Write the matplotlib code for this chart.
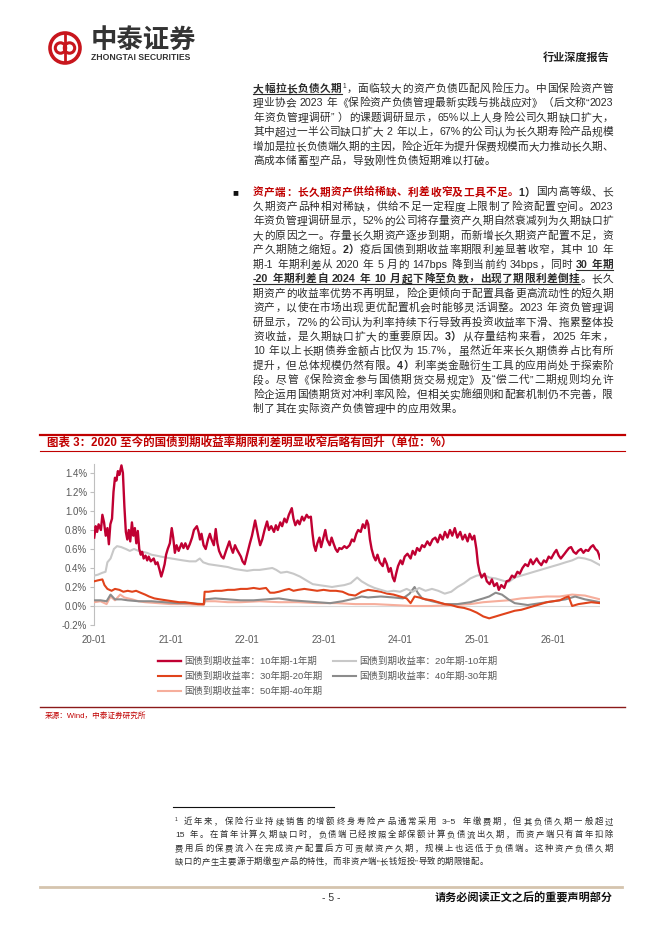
import re
import matplotlib
matplotlib.use("Agg")
import matplotlib.pyplot as plt
import matplotlib.dates as mdates
from matplotlib.patches import Circle
from matplotlib.ticker import FuncFormatter
import pandas as pd

plt.rcParams['font.family'] = ['Liberation Sans', 'Noto Sans CJK SC']

# ---------------- chart data (spread, %) ----------------
labels = ["国债到期收益率：10年期-1年期", "国债到期收益率：20年期-10年期",
          "国债到期收益率：30年期-20年期", "国债到期收益率：40年期-30年期",
          "国债到期收益率：50年期-40年期"]

d_10_1 = ["2020-01-02", "2020-01-09", "2020-01-16", "2020-01-23", "2020-02-03", "2020-02-10", "2020-02-18", "2020-02-26",
          "2020-03-05", "2020-03-12", "2020-03-19", "2020-03-27", "2020-04-03", "2020-04-10", "2020-04-17", "2020-04-24",
          "2020-05-01", "2020-05-11", "2020-05-18", "2020-05-25", "2020-06-01", "2020-06-08", "2020-06-15", "2020-06-22",
          "2020-06-30", "2020-07-07", "2020-07-14", "2020-07-21", "2020-07-28", "2020-08-04", "2020-08-11", "2020-08-18",
          "2020-08-25", "2020-09-03", "2020-09-11", "2020-09-18", "2020-09-28", "2020-10-12", "2020-10-21", "2020-10-30",
          "2020-11-09", "2020-11-17", "2020-11-25", "2020-12-03", "2020-12-10", "2020-12-18", "2020-12-28",
          "2021-01-06", "2021-01-13", "2021-01-21", "2021-01-29", "2021-02-08", "2021-02-22", "2021-03-03", "2021-03-12",
          "2021-03-23", "2021-04-02", "2021-04-13", "2021-04-22", "2021-05-06", "2021-05-14", "2021-05-21", "2021-05-28",
          "2021-06-07", "2021-06-17", "2021-06-28", "2021-07-07", "2021-07-15", "2021-07-26", "2021-08-04", "2021-08-12",
          "2021-08-20", "2021-09-01", "2021-09-10", "2021-09-22", "2021-10-08", "2021-10-15", "2021-10-25", "2021-11-04",
          "2021-11-12", "2021-11-22", "2021-12-02", "2021-12-10", "2021-12-20", "2021-12-29",
          "2022-01-07", "2022-01-14", "2022-01-24", "2022-02-08", "2022-02-15", "2022-02-24", "2022-03-04", "2022-03-14",
          "2022-03-25", "2022-04-06", "2022-04-15", "2022-04-26", "2022-05-09", "2022-05-18", "2022-05-27", "2022-06-08",
          "2022-06-17", "2022-06-28", "2022-07-08", "2022-07-19", "2022-08-02", "2022-08-10", "2022-08-19", "2022-08-30",
          "2022-09-08", "2022-09-20", "2022-09-29", "2022-10-12", "2022-10-21", "2022-11-01", "2022-11-09", "2022-11-16",
          "2022-11-24", "2022-12-02", "2022-12-12", "2022-12-20", "2022-12-29",
          "2023-01-09", "2023-01-17", "2023-01-30", "2023-02-08", "2023-02-17", "2023-02-27", "2023-03-08", "2023-03-17",
          "2023-03-28", "2023-04-10", "2023-04-21", "2023-05-05", "2023-05-16", "2023-05-26", "2023-06-06", "2023-06-15",
          "2023-06-27", "2023-07-07", "2023-07-17", "2023-07-26", "2023-08-02", "2023-08-10", "2023-08-18", "2023-08-28",
          "2023-09-06", "2023-09-15", "2023-09-26", "2023-10-10", "2023-10-19", "2023-10-30", "2023-11-08", "2023-11-17",
          "2023-11-27", "2023-12-05", "2023-12-13", "2023-12-22",
          "2024-01-03", "2024-01-12", "2024-01-23", "2024-02-05", "2024-02-20", "2024-03-01", "2024-03-12", "2024-03-22",
          "2024-04-03", "2024-04-15", "2024-04-26", "2024-05-10", "2024-05-22", "2024-06-04", "2024-06-17", "2024-06-28",
          "2024-07-10", "2024-07-22", "2024-08-02", "2024-08-14", "2024-08-26", "2024-09-06", "2024-09-18", "2024-09-30",
          "2024-10-14", "2024-10-25", "2024-11-06", "2024-11-18", "2024-11-28", "2024-12-10", "2024-12-20", "2024-12-30",
          "2025-01-06", "2025-01-14", "2025-01-24", "2025-02-07", "2025-02-18", "2025-03-03", "2025-03-14", "2025-03-25",
          "2025-04-07", "2025-04-16", "2025-04-28", "2025-05-12", "2025-05-23", "2025-06-05", "2025-06-18", "2025-06-30",
          "2025-07-14", "2025-07-25", "2025-08-07", "2025-08-20", "2025-09-02", "2025-09-15", "2025-09-26", "2025-10-14",
          "2025-10-24", "2025-11-05", "2025-11-17", "2025-11-28", "2025-12-10", "2025-12-22",
          "2026-01-06", "2026-01-16", "2026-01-27", "2026-02-06", "2026-02-24", "2026-03-06", "2026-03-17", "2026-03-27",
          "2026-04-08", "2026-04-20", "2026-04-30", "2026-05-13", "2026-05-25", "2026-06-05", "2026-06-17", "2026-06-29",
          "2026-07-10", "2026-07-21", "2026-07-31", "2026-08-07", "2026-08-12"]
v_10_1 = [0.72, 0.84, 0.78, 0.86, 0.80, 0.96, 0.88, 0.74,
          0.82, 0.65, 0.86, 0.92, 1.20, 1.35, 1.32, 1.42,
          1.38, 1.48, 1.40, 1.05, 0.78, 0.70, 0.80, 0.68,
          0.88, 0.74, 0.82, 0.66, 0.79, 0.60, 0.54, 0.57,
          0.50, 0.53, 0.48, 0.52, 0.47, 0.50, 0.44, 0.46,
          0.38, 0.31, 0.37, 0.44, 0.54, 0.60, 0.66,
          0.82, 0.72, 0.56, 0.64, 0.58, 0.66, 0.61, 0.66,
          0.60, 0.65, 0.72, 0.80, 0.84, 0.78, 0.70, 0.76,
          0.64, 0.60, 0.70, 0.76, 0.70, 0.64, 0.81, 0.66,
          0.58, 0.52, 0.50, 0.58, 0.68, 0.62, 0.56, 0.64,
          0.60, 0.56, 0.52, 0.47, 0.44, 0.52,
          0.60, 0.66, 0.74, 0.90, 0.82, 0.72, 0.64, 0.70,
          0.80, 0.89, 0.80, 0.84, 0.78, 0.85, 0.80, 0.88,
          0.84, 0.92, 0.88, 0.96, 1.03, 0.92, 0.85, 0.90,
          0.86, 0.94, 0.90, 0.96, 0.93, 0.94, 0.76, 0.64,
          0.58, 0.66, 0.72, 0.62, 0.70,
          0.80, 0.70, 0.64, 0.72, 0.66, 0.60, 0.57, 0.61,
          0.60, 0.63, 0.61, 0.64, 0.70, 0.68, 0.76, 0.80,
          0.78, 0.86, 0.82, 0.90, 0.86, 0.70, 0.60, 0.52,
          0.48, 0.54, 0.46, 0.42, 0.50, 0.44, 0.36, 0.40,
          0.30, 0.26, 0.34, 0.42,
          0.48, 0.44, 0.52, 0.55, 0.50, 0.58, 0.54, 0.61,
          0.58, 0.64, 0.62, 0.68, 0.64, 0.70, 0.72, 0.67,
          0.75, 0.70, 0.78, 0.72, 0.80, 0.74, 0.82, 0.72,
          0.78, 0.70, 0.75, 0.68, 0.76, 0.70, 0.74, 0.60,
          0.45, 0.36, 0.30, 0.34, 0.26, 0.23, 0.28, 0.21,
          0.24, 0.17, 0.22, 0.19, 0.26, 0.27, 0.32, 0.30,
          0.36, 0.34, 0.40, 0.44, 0.42, 0.49, 0.44, 0.50,
          0.46, 0.43, 0.48, 0.46, 0.52, 0.50,
          0.56, 0.59, 0.53, 0.50, 0.55, 0.58, 0.61, 0.62,
          0.57, 0.55, 0.58, 0.60, 0.56, 0.59, 0.58, 0.62,
          0.64, 0.60, 0.58, 0.54, 0.50]

d_20_10 = ["2020-01-02", "2020-01-20", "2020-02-10", "2020-02-25", "2020-03-05", "2020-03-20", "2020-04-05", "2020-04-20",
           "2020-05-10", "2020-06-01", "2020-06-20", "2020-07-10", "2020-08-01", "2020-08-20", "2020-09-10", "2020-10-01",
           "2020-10-25", "2020-11-15", "2020-12-10", "2021-01-05", "2021-02-01", "2021-03-01", "2021-04-01", "2021-05-01",
           "2021-05-20", "2021-06-05", "2021-07-01", "2021-08-01", "2021-09-01", "2021-10-01", "2021-11-01", "2021-12-01",
           "2022-01-01", "2022-02-01", "2022-03-01", "2022-04-01", "2022-05-01", "2022-05-20", "2022-06-10", "2022-07-10",
           "2022-08-10", "2022-09-10", "2022-10-10", "2022-11-10", "2022-12-10", "2023-01-10", "2023-02-10", "2023-03-10",
           "2023-04-10", "2023-05-10", "2023-06-10", "2023-07-01", "2023-08-01", "2023-09-01", "2023-10-01", "2023-11-01",
           "2023-12-01", "2024-01-01", "2024-02-01", "2024-03-01", "2024-04-01", "2024-05-01", "2024-06-01", "2024-07-01",
           "2024-08-01", "2024-09-01", "2024-10-01", "2024-11-01", "2024-12-01", "2025-01-01", "2025-02-01", "2025-03-01",
           "2025-04-01", "2025-05-01", "2025-06-01", "2025-07-01", "2025-08-01", "2025-09-01", "2025-10-01", "2025-11-01",
           "2025-12-01", "2026-01-01", "2026-02-01", "2026-03-01", "2026-04-01", "2026-05-01", "2026-06-01", "2026-07-01",
           "2026-08-12"]
v_20_10 = [0.32, 0.33, 0.35, 0.36, 0.46, 0.50, 0.60, 0.63,
           0.62, 0.60, 0.58, 0.60, 0.58, 0.57, 0.56, 0.54,
           0.53, 0.52, 0.51, 0.50, 0.49, 0.48, 0.47, 0.47,
           0.50, 0.46, 0.44, 0.43, 0.42, 0.41, 0.39, 0.38,
           0.37, 0.38, 0.38, 0.39, 0.40, 0.38, 0.35, 0.36,
           0.34, 0.31, 0.27, 0.23, 0.22, 0.21, 0.20, 0.21,
           0.22, 0.24, 0.30, 0.26, 0.22, 0.19, 0.17, 0.15,
           0.16, 0.15, 0.18, 0.15, 0.19, 0.16, 0.18, 0.16,
           0.13, 0.15, 0.20, 0.24, 0.29, 0.32, 0.33, 0.30,
           0.29, 0.27, 0.25, 0.30, 0.32, 0.34, 0.36, 0.38,
           0.40, 0.42, 0.44, 0.46, 0.48, 0.51, 0.50, 0.48,
           0.43]

d_30_20 = ["2020-01-02", "2020-01-20", "2020-02-10", "2020-02-20", "2020-03-05", "2020-03-25", "2020-04-10", "2020-05-01",
           "2020-05-20", "2020-06-10", "2020-07-01", "2020-07-20", "2020-08-10", "2020-09-01", "2020-09-20", "2020-10-15",
           "2020-11-10", "2020-12-10", "2021-01-10", "2021-02-10", "2021-03-10", "2021-04-10", "2021-05-10", "2021-06-08",
           "2021-06-12", "2021-07-01", "2021-08-01", "2021-09-01", "2021-10-01", "2021-11-01", "2021-12-01", "2022-01-01",
           "2022-02-01", "2022-03-01", "2022-04-01", "2022-04-20", "2022-05-10", "2022-06-01", "2022-07-01", "2022-07-20",
           "2022-08-10", "2022-09-01", "2022-10-01", "2022-11-01", "2022-12-01", "2023-01-01", "2023-02-01", "2023-03-01",
           "2023-04-01", "2023-05-01", "2023-06-01", "2023-07-01", "2023-08-01", "2023-09-01", "2023-10-01", "2023-11-01",
           "2023-12-01", "2024-01-01", "2024-02-01", "2024-02-20", "2024-03-10", "2024-04-01", "2024-05-01", "2024-06-01",
           "2024-07-01", "2024-08-01", "2024-09-01", "2024-10-01", "2024-11-01", "2024-12-01", "2025-01-01", "2025-02-01",
           "2025-03-01", "2025-04-01", "2025-05-01", "2025-06-01", "2025-07-01", "2025-08-01", "2025-09-01", "2025-10-01",
           "2025-11-01", "2025-12-01", "2026-01-01", "2026-02-01", "2026-03-01", "2026-03-15", "2026-04-01", "2026-05-01",
           "2026-06-01", "2026-07-01", "2026-08-12"]
v_30_20 = [0.26, 0.27, 0.28, 0.22, 0.18, 0.16, 0.18, 0.17,
           0.15, 0.16, 0.15, 0.16, 0.14, 0.12, 0.10, 0.08,
           0.07, 0.06, 0.05, 0.04, 0.04, 0.03, 0.02, 0.02,
           0.15, 0.15, 0.16, 0.16, 0.17, 0.17, 0.18, 0.18,
           0.19, 0.18, 0.19, 0.14, 0.14, 0.15, 0.17, 0.18,
           0.16, 0.17, 0.18, 0.17, 0.16, 0.17, 0.16, 0.16,
           0.15, 0.12, 0.11, 0.15, 0.17, 0.16, 0.15, 0.13,
           0.12, 0.10, 0.08, 0.03, 0.10, 0.09, 0.07, 0.06,
           0.04, 0.02, 0.01, -0.01, -0.02, -0.04, -0.07, -0.11,
           -0.13, -0.11, -0.09, -0.07, -0.05, -0.04, -0.02, 0.00,
           0.02, 0.04, 0.05, 0.06, 0.09, 0.10, 0.00, 0.02,
           0.03, 0.04, 0.03]

d_40_30 = ["2020-01-02", "2020-02-01", "2020-03-01", "2020-03-20", "2020-04-10", "2020-05-10", "2020-06-10", "2020-08-01",
           "2020-10-01", "2020-12-01", "2021-02-01", "2021-04-01", "2021-06-08", "2021-06-14", "2021-08-01", "2021-10-01",
           "2021-12-01", "2022-02-01", "2022-04-01", "2022-06-01", "2022-08-01", "2022-10-01", "2022-12-01", "2023-02-01",
           "2023-04-01", "2023-06-01", "2023-07-01", "2023-08-01", "2023-10-01", "2023-12-01", "2024-01-15", "2024-02-15",
           "2024-03-10", "2024-03-25", "2024-04-15", "2024-06-01", "2024-08-01", "2024-10-01", "2024-12-01", "2025-01-01",
           "2025-02-01", "2025-03-01", "2025-04-01", "2025-05-01", "2025-06-01", "2025-07-01", "2025-09-01", "2025-11-01",
           "2026-01-01", "2026-03-01", "2026-04-15", "2026-06-01", "2026-08-12"]
v_40_30 = [0.06, 0.06, 0.05, 0.12, 0.07, 0.07, 0.06, 0.05,
           0.05, 0.04, 0.03, 0.03, 0.02, 0.07, 0.08, 0.07,
           0.06, 0.06, 0.07, 0.08, 0.06, 0.05, 0.04, 0.03,
           0.05, 0.08, 0.10, 0.09, 0.10, 0.09, 0.08, 0.13,
           0.20, 0.14, 0.08, 0.05, 0.02, 0.02, 0.04, 0.06,
           0.08, 0.10, 0.14, 0.12, 0.07, 0.03, 0.01, 0.03,
           0.05, 0.07, 0.10, 0.07, 0.04]

d_50_40 = ["2020-01-02", "2020-02-01", "2020-03-01", "2020-03-20", "2020-04-10", "2020-05-05", "2020-05-25", "2020-07-01",
           "2020-08-01", "2020-09-01", "2020-11-01", "2021-01-01", "2021-03-01", "2021-06-08", "2021-06-14", "2021-08-01",
           "2021-10-01", "2021-12-01", "2022-03-01", "2022-06-01", "2022-09-01", "2022-12-01", "2023-03-01", "2023-06-01",
           "2023-09-01", "2023-12-01", "2024-03-01", "2024-06-01", "2024-09-01", "2024-12-01", "2025-02-01", "2025-04-01",
           "2025-06-01", "2025-08-01", "2025-10-01", "2025-12-01", "2026-02-01", "2026-04-01", "2026-06-01", "2026-08-12"]
v_50_40 = [0.04, 0.05, 0.02, 0.10, 0.06, 0.12, 0.09, 0.07,
           0.05, 0.04, 0.03, 0.02, 0.02, 0.01, 0.05, 0.05,
           0.04, 0.04, 0.05, 0.04, 0.04, 0.03, 0.03, 0.02,
           0.02, 0.01, 0.00, 0.00, 0.01, 0.02, 0.04, 0.05,
           0.06, 0.08, 0.09, 0.10, 0.10, 0.12, 0.11, 0.07]

series_colors = ['#C00032', '#C8C8C8', '#E0431B', '#8C8C8C', '#F6AE9C']

# ---------------- page text ----------------
para1 = [
    [("大幅拉长负债久期", 'bu'), ("1", 'sup'), ("，面临较大的资产负债匹配风险压力。中国保险资产管", 'n')],
    [("理业协会 2023 年《保险资产负债管理最新实践与挑战应对》（后文称“2023", 'n')],
    [("年资负管理调研” ）的课题调研显示，65%以上人身险公司久期缺口扩大，", 'n')],
    [("其中超过一半公司缺口扩大 2 年以上，67%的公司认为长久期寿险产品规模", 'n')],
    [("增加是拉长负债端久期的主因，险企近年为提升保费规模而大力推动长久期、", 'n')],
    [("高成本储蓄型产品，导致刚性负债短期难以打破。", 'n')],
]
para2 = [
    [("资产端：长久期资产供给稀缺、利差收窄及工具不足。", 'r'), ("1）", 'b'), ("国内高等级、长", 'n')],
    [("久期资产品种相对稀缺，供给不足一定程度上限制了险资配置空间。2023", 'n')],
    [("年资负管理调研显示，52%的公司将存量资产久期自然衰减列为久期缺口扩", 'n')],
    [("大的原因之一。存量长久期资产逐步到期，而新增长久期资产配置不足，资", 'n')],
    [("产久期随之缩短。", 'n'), ("2）", 'b'), ("疫后国债到期收益率期限利差显著收窄，其中 10 年", 'n')],
    [("期-1 年期利差从 2020 年 5 月的 147bps 降到当前约 34bps，同时 ", 'n'), ("30 年期", 'bu')],
    [("-20 年期利差自 2024 年 10 月起下降至负数，出现了期限利差倒挂", 'bu'), ("。长久", 'n')],
    [("期资产的收益率优势不再明显，险企更倾向于配置具备更高流动性的短久期", 'n')],
    [("资产，以使在市场出现更优配置机会时能够灵活调整。2023 年资负管理调", 'n')],
    [("研显示，72%的公司认为利率持续下行导致再投资收益率下滑、拖累整体投", 'n')],
    [("资收益，是久期缺口扩大的重要原因。", 'n'), ("3）", 'b'), ("从存量结构来看，2025 年末，", 'n')],
    [("10 年以上长期债券金额占比仅为 15.7%，虽然近年来长久期债券占比有所", 'n')],
    [("提升，但总体规模仍然有限。", 'n'), ("4）", 'b'), ("利率类金融衍生工具的应用尚处于探索阶", 'n')],
    [("段。尽管《保险资金参与国债期货交易规定》及“偿二代”二期规则均允许", 'n')],
    [("险企运用国债期货对冲利率风险，但相关实施细则和配套机制仍不完善，限", 'n')],
    [("制了其在实际资产负债管理中的应用效果。", 'n')],
]
footnote = [
    [("1", 'sup'), (" 近年来，保险行业持续销售的增额终身寿险产品通常采用 3~5 年缴费期，但其负债久期一般超过", 'n')],
    [("15 年。在首年计算久期缺口时，负债端已经按照全部保额计算负债流出久期，而资产端只有首年扣除", 'n')],
    [("费用后的保费流入在完成资产配置后方可贡献资产久期，规模上也远低于负债端。这种资产负债久期", 'n')],
    [("缺口的产生主要源于期缴型产品的特性，而非资产端“长钱短投”导致的期限错配。", 'n')],
]

fig = plt.figure(figsize=(6.62, 9.36), dpi=100)
page = fig.add_axes([0, 0, 1, 1])
page.set_xlim(0, 662)
page.set_ylim(936, 0)
page.axis('off')
rend = fig.canvas.get_renderer()

TXT = '#2B2B2B'


def put_line(y, segs, x0, x1, size, justify=True):
    """place one line token by token, spreading the spare room between tokens"""
    items = []
    for txt, st in segs:
        for piece in re.findall(r'[!-~]+| |[^ -~]', txt):
            if piece == ' ':
                items.append((None, size * 100 / 72 * 0.28, st))
                continue
            fs = size * 0.62 if st == 'sup' else size
            col = '#C00000' if st == 'r' else TXT
            wt = 'bold' if st in ('b', 'bu', 'r') else 'normal'
            t = page.text(0, y, piece, fontsize=fs, color=col, fontweight=wt,
                          va='baseline', ha='left')
            items.append((t, t.get_window_extent(renderer=rend).width, st))
    total = sum(w for _, w, _ in items)
    gap = (x1 - x0 - total) / (len(items) - 1) if justify and len(items) > 1 else 0.4
    x = x0
    ul = []
    for t, w, st in items:
        if t is not None:
            t.set_x(x)
            if st == 'sup':
                t.set_y(y - size * 0.55)
        if st == 'bu':
            if ul and x - ul[-1][1] <= gap + 0.6:
                ul[-1][1] = x + w
            else:
                ul.append([x, x + w])
        x += w + gap
    for a, b in ul:
        page.plot([a, b], [y + 2, y + 2], color=TXT, lw=0.8)


# header
LOGO = '#C8161D'
page.add_patch(Circle((65, 48), 15, fill=False, ec=LOGO, lw=2.6))
page.add_patch(Circle((60.5, 48), 5.2, fill=False, ec=LOGO, lw=2.2))
page.add_patch(Circle((69.5, 48), 5.2, fill=False, ec=LOGO, lw=2.2))
page.plot([65, 65], [34, 62], color=LOGO, lw=2.0)
page.text(91, 40, "中泰证券", fontsize=19, fontweight='bold', color='#333333', va='center', ha='left')
page.text(91, 58, "ZHONGTAI SECURITIES", fontsize=6.2, fontweight='bold', color='#333333', va='center', ha='left')
page.text(610, 58, "行业深度报告", fontsize=8, fontweight='bold', color='#222222', va='center', ha='right')

# body paragraphs
for i, segs in enumerate(para1):
    put_line(92 + i * 14.45, segs, 253, 613, 7.7, justify=(i < len(para1) - 1))
page.text(232, 195.5, "■", fontsize=7, color='#111111', va='baseline', ha='left')
for i, segs in enumerate(para2):
    put_line(195.5 + i * 14.45, segs, 253, 613, 7.7, justify=(i < len(para2) - 1))

# chart title band
page.plot([40, 625], [435, 435], color='#C00000', lw=1.6)
page.plot([40, 625], [451, 451], color='#C00000', lw=0.8)
page.text(47, 443, "图表 3：2020 至今的国债到期收益率期限利差明显收窄后略有回升（单位：%）",
          fontsize=8.3, fontweight='bold', color='#C00000', va='center', ha='left')

# chart
ax = fig.add_axes([94 / 662, 1 - 625 / 936, 506 / 662, 161.5 / 936])
series = [(d_10_1, v_10_1), (d_20_10, v_20_10), (d_30_20, v_30_20), (d_40_30, v_40_30), (d_50_40, v_50_40)]
zorders = [6, 5, 4, 3.5, 3]
handles = []
for (d, v), lab, col, z in zip(series, labels, series_colors, zorders):
    h, = ax.plot(pd.to_datetime(d), v, color=col, lw=1.7 if col == '#C00032' else 1.5,
                 label=lab, zorder=z, solid_joinstyle='round')
    handles.append(h)
ax.axhline(0, color='#D9D9D9', lw=0.8, zorder=1)
ax.set_xlim(pd.Timestamp("2020-01-01"), pd.Timestamp("2026-08-12"))
ax.set_ylim(-0.2, 1.5)
ax.set_yticks([-0.2, 0.0, 0.2, 0.4, 0.6, 0.8, 1.0, 1.2, 1.4])
ax.yaxis.set_major_formatter(FuncFormatter(lambda v, p: f"{v:.1f}%"))
ax.xaxis.set_major_locator(mdates.YearLocator())
ax.xaxis.set_major_formatter(mdates.DateFormatter('%y-%m'))
for s in ['top', 'right', 'bottom']:
    ax.spines[s].set_visible(False)
ax.spines['left'].set_color('#BFBFBF')
ax.spines['left'].set_linewidth(0.8)
ax.tick_params(axis='y', length=3, color='#BFBFBF', labelcolor='#595959', labelsize=7, pad=2)
ax.tick_params(axis='x', length=0, labelcolor='#595959', labelsize=7, pad=7)
ax.patch.set_visible(False)

ax.legend(handles=[handles[0], handles[2], handles[4], handles[1], handles[3]], ncol=2,
          loc='upper left', bbox_to_anchor=(158 / 662, 1 - 657 / 936), bbox_transform=fig.transFigure,
          frameon=False, fontsize=6.8, handlelength=2.4, handletextpad=0.4,
          columnspacing=1.1, labelspacing=0.6, borderaxespad=0, borderpad=0,
          labelcolor='#595959')

# source
page.plot([40, 625], [707, 707], color='#8B1A1A', lw=1)
page.text(45, 716, "来源：Wind，中泰证券研究所", fontsize=5.5, color='#C00000', va='center', ha='left')

# footnote
page.plot([173, 334], [807, 807], color='#111111', lw=0.8)
for i, segs in enumerate(footnote):
    put_line(824 + i * 13.4, segs, 175, 613, 6.0, justify=(i < len(footnote) - 1))

# footer
page.plot([40, 622], [887, 887], color='#D5C4AE', lw=2)
page.text(331, 898, "- 5 -", fontsize=7.5, color='#333333', va='center', ha='center')
page.text(613, 898, "请务必阅读正文之后的重要声明部分", fontsize=8, fontweight='bold', color='#111111',
          va='center', ha='right')

fig.savefig("out.png", dpi=100, facecolor='white')
